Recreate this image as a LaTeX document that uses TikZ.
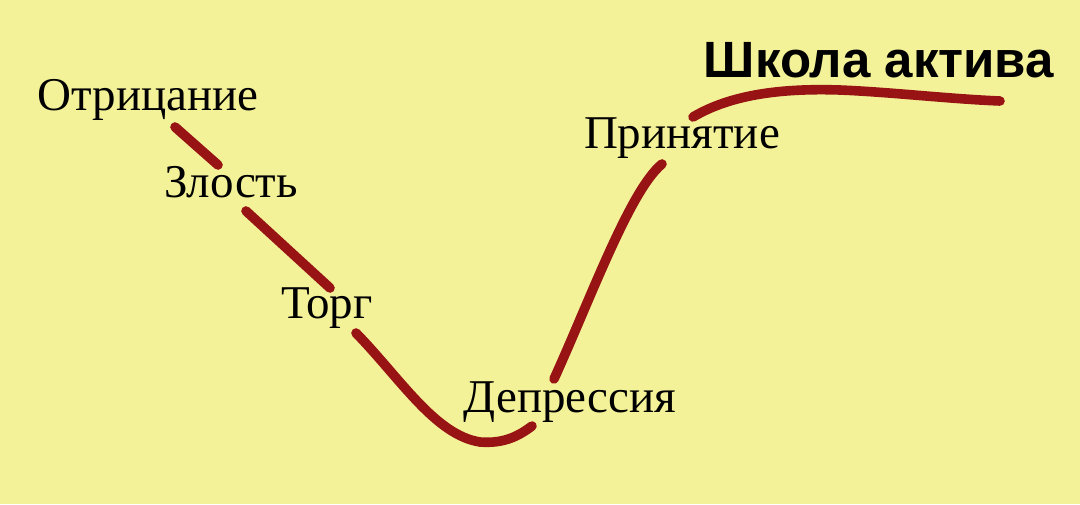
\documentclass[tikz,border=0pt]{standalone}
\usepackage{fontspec}
\setmainfont{Liberation Serif}
\newfontfamily\headfont{Liberation Sans}
\definecolor{paper}{RGB}{244,242,152}
\definecolor{curvered}{RGB}{152,20,20}
\tikzset{
  stage/.style={anchor=base, inner sep=0pt, font=\fontsize{23.5}{28}\selectfont},
  curve/.style={curvered, line width=4.8pt, line cap=round},
}
\begin{document}
\begin{tikzpicture}[x=0.5pt,y=-0.5pt]
  % background
  \fill[paper] (0,0) rectangle (1080,504);
  \useasboundingbox (0,0) rectangle (1080,504);

  % stages
  \node[stage] (otr) at (148,110) {Отрицание};
  \node[stage] (zlo) at (231,197) {Злость};
  \node[stage] (torg) at (327,318) {Торг};
  \node[stage] (depr) at (570,412) {Депрессия};
  \node[stage] (prin) at (682,148) {Принятие};
  \node[anchor=base, inner sep=0pt, font=\headfont\bfseries\fontsize{25.5}{30}\selectfont] (title) at (879,77) {Школа актива};

  % curve pieces
  \draw[curve] (175,127) -- (218,165);
  \draw[curve] (246,211) -- (330,288);
  \draw[curve] (356,333) .. controls (400,378) and (435,435) .. (480,442)
                         .. controls (505,444) and (520,435) .. (532,426);
  \draw[curve] (554,379) .. controls (590,300) and (630,190) .. (662,164);
  \draw[curve] (693,117) .. controls (730,95) and (780,88) .. (840,90)
                         .. controls (890,92) and (950,99) .. (1000,101);
\end{tikzpicture}
\end{document}
